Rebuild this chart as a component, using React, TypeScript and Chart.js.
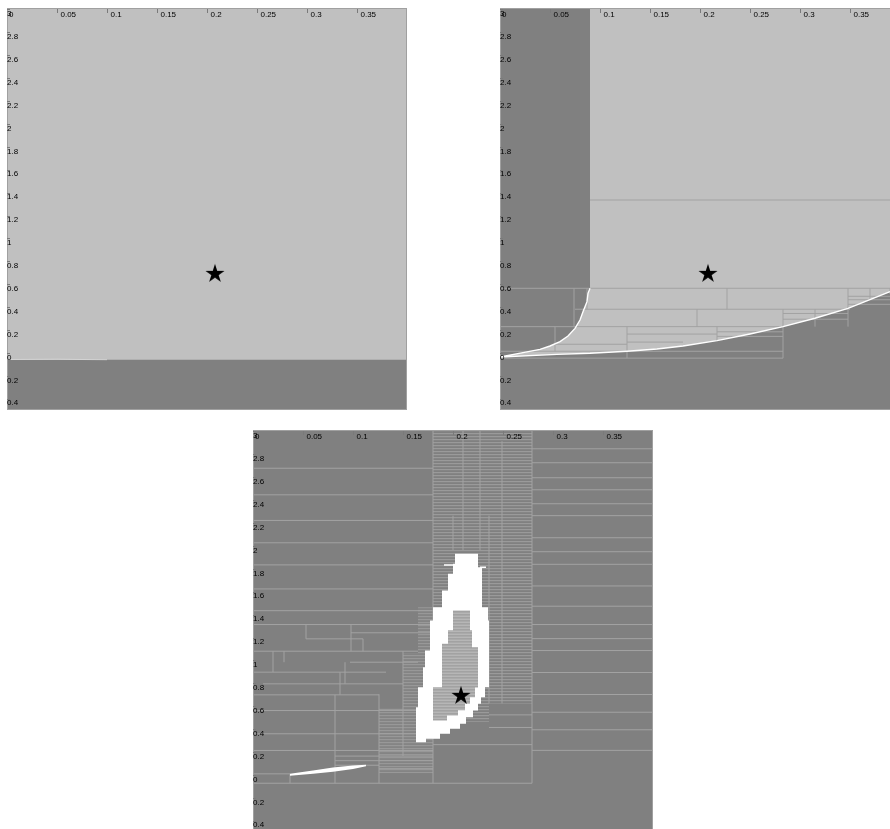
import React, { useEffect, useRef } from 'react';
import { Chart, registerables } from 'chart.js';

Chart.register(...registerables);

// ---------- axes ----------
const X_MIN = 0;
const X_MAX = 0.4;
const Y_MIN = -0.463;
const Y_MAX = 3.048;

const xTickValues = [0, 0.05, 0.1, 0.15, 0.2, 0.25, 0.3, 0.35];
const xTickLabels = ['0', '0.05', '0.1', '0.15', '0.2', '0.25', '0.3', '0.35'];
const yTickValues = [-0.4, -0.2, 0, 0.2, 0.4, 0.6, 0.8, 1, 1.2, 1.4, 1.6, 1.8, 2, 2.2, 2.4, 2.6, 2.8, 3];
const yTickLabels = ['-0.4', '-0.2', '0', '0.2', '0.4', '0.6', '0.8', '1', '1.2', '1.4', '1.6', '1.8', '2', '2.2', '2.4', '2.6', '2.8', '3'];

// ---------- shared ----------
const starPoint = [[0.208, 0.726]];

// ---------- panel 1 ----------
const p1Region = [[0, -0.025], [0.4, -0.025], [0.4, 3.1], [0, 3.1]];
const p1Edge = [[0, -0.022], [0.05, -0.02], [0.1, -0.024]];

// ---------- panel 2 ----------
const p2LeftCurve = [
  [0.09, 3.1], [0.09, 0.6], [0.088, 0.556], [0.087, 0.483], [0.083, 0.396], [0.08, 0.323],
  [0.075, 0.25], [0.068, 0.183], [0.06, 0.134], [0.05, 0.096], [0.04, 0.067], [0.023, 0.038], [0, 0],
];
const p2BottomCurve = [
  [0, 0], [0.057, 0.023], [0.09, 0.032], [0.127, 0.05], [0.157, 0.07], [0.183, 0.096],
  [0.217, 0.143], [0.25, 0.201], [0.283, 0.265], [0.315, 0.338], [0.348, 0.425], [0.39, 0.57], [0.4, 0.61],
];
const p2Mesh = [
  [0.09, 1.371, 0.4, 1.371],
  [0, 0.6, 0.4, 0.6],
  [0.075, 0.417, 0.35, 0.417],
  [0, 0.265, 0.283, 0.265],
  [0.055, 0.111, 0.127, 0.111],
  [0, 0.05, 0.283, 0.05],
  [0, -0.01, 0.283, -0.01],
  [0.127, 0.2, 0.217, 0.2],
  [0.127, 0.13, 0.183, 0.13],
  [0.217, 0.22, 0.283, 0.22],
  [0.217, 0.18, 0.283, 0.18],
  [0.283, 0.38, 0.348, 0.38],
  [0.283, 0.33, 0.348, 0.33],
  [0.348, 0.46, 0.4, 0.46],
  [0.348, 0.53, 0.4, 0.53],
  [0.348, 0.5, 0.4, 0.5],
  [0.227, 0.417, 0.227, 0.6],
  [0.197, 0.265, 0.197, 0.417],
  [0.283, -0.01, 0.283, 0.417],
  [0.127, -0.01, 0.127, 0.265],
  [0.348, 0.265, 0.348, 0.6],
  [0.315, 0.265, 0.315, 0.417],
  [0.217, 0.143, 0.217, 0.265],
  [0.074, 0.265, 0.074, 0.6],
  [0.055, 0.05, 0.055, 0.265],
  [0.087, 0.417, 0.087, 0.6],
  [0.37, 0.5, 0.37, 0.6],
  [0.39, 0.55, 0.39, 0.6],
];

// ---------- panel 3 ----------
const p3Ring = [
  [0.205, 1.967], [0.225, 1.967], [0.225, 1.85], [0.229, 1.85], [0.229, 1.5], [0.235, 1.5],
  [0.235, 1.384], [0.236, 1.384], [0.236, 0.802], [0.232, 0.802], [0.232, 0.714], [0.228, 0.714],
  [0.228, 0.657], [0.225, 0.657], [0.225, 0.598], [0.22, 0.598], [0.22, 0.54], [0.213, 0.54],
  [0.213, 0.482], [0.207, 0.482], [0.207, 0.438], [0.197, 0.438], [0.197, 0.395], [0.187, 0.395],
  [0.187, 0.351], [0.173, 0.351], [0.173, 0.321], [0.163, 0.321], [0.163, 0.627], [0.165, 0.627],
  [0.165, 0.802], [0.17, 0.802], [0.17, 0.976], [0.172, 0.976], [0.172, 1.122], [0.177, 1.122],
  [0.177, 1.384], [0.18, 1.384], [0.18, 1.5], [0.189, 1.5], [0.189, 1.646], [0.195, 1.646],
  [0.195, 1.792], [0.2, 1.792], [0.2, 1.879], [0.202, 1.879], [0.202, 1.967],
];
const p3Inner = [
  [0.2, 1.472], [0.217, 1.472], [0.217, 1.3], [0.219, 1.3], [0.219, 1.151], [0.225, 1.151],
  [0.225, 0.8], [0.222, 0.8], [0.222, 0.714], [0.217, 0.714], [0.217, 0.657], [0.212, 0.657],
  [0.212, 0.6], [0.205, 0.6], [0.205, 0.555], [0.194, 0.555], [0.194, 0.511], [0.18, 0.511],
  [0.18, 0.802], [0.189, 0.802], [0.189, 1.181], [0.195, 1.181], [0.195, 1.3], [0.2, 1.3],
];
const p3Streak = [
  [0.037, 0.045], [0.06, 0.075], [0.08, 0.1], [0.1, 0.118], [0.113, 0.124],
  [0.113, 0.112], [0.1, 0.088], [0.08, 0.064], [0.06, 0.045], [0.037, 0.028],
];
const p3WhiteDashes = [
  [0.191, 1.87, 0.2, 1.87],
  [0.227, 1.85, 0.233, 1.85],
];
const p3BandHatch = [[0.18, 3.1], [0.279, 3.1], [0.279, 0.66], [0.236, 0.66], [0.236, 0.5], [0.18, 0.5]];
const p3LeftHatch = [
  [0.126, 0.05], [0.18, 0.05], [0.18, 1.5], [0.165, 1.5], [0.165, 1.1], [0.15, 1.1], [0.15, 0.62], [0.126, 0.62],
];
const p3Mesh = [
  [0.279, 2.884, 0.4, 2.884], [0.279, 2.762, 0.4, 2.762], [0.279, 2.631, 0.4, 2.631],
  [0.279, 2.526, 0.4, 2.526], [0.279, 2.404, 0.4, 2.404], [0.279, 2.3, 0.4, 2.3],
  [0.279, 2.107, 0.4, 2.107], [0.279, 1.985, 0.4, 1.985], [0.279, 1.875, 0.4, 1.875],
  [0.279, 1.686, 0.4, 1.686], [0.279, 1.509, 0.4, 1.509], [0.279, 1.349, 0.4, 1.349],
  [0.279, 1.226, 0.4, 1.226], [0.279, 1.122, 0.4, 1.122], [0.279, 0.93, 0.4, 0.93],
  [0.279, 0.738, 0.4, 0.738], [0.279, 0.583, 0.4, 0.583], [0.279, 0.43, 0.4, 0.43],
  [0.279, 0.25, 0.4, 0.25],
  [0, 2.714, 0.18, 2.714], [0, 2.482, 0.18, 2.482], [0, 2.258, 0.18, 2.258], [0, 2.063, 0.18, 2.063],
  [0, 1.87, 0.18, 1.87], [0, 1.66, 0.18, 1.66], [0, 1.47, 0.18, 1.47], [0, 1.349, 0.18, 1.349],
  [0.098, 1.277, 0.18, 1.277], [0.053, 1.224, 0.11, 1.224], [0, 1.116, 0.165, 1.116],
  [0.097, 1.02, 0.165, 1.02], [0, 0.933, 0.133, 0.933], [0.01, 0.831, 0.15, 0.831],
  [0, 0.735, 0.126, 0.735], [0, 0.598, 0.163, 0.598], [0, 0.395, 0.163, 0.395],
  [0, 0.249, 0.18, 0.249], [0.082, 0.2, 0.18, 0.2], [0.082, 0.16, 0.18, 0.16],
  [0.082, 0.12, 0.126, 0.12], [0.126, 0.09, 0.18, 0.09], [0, 0.045, 0.037, 0.045],
  [0, -0.037, 0.279, -0.037], [0.18, 0.3, 0.279, 0.3], [0.236, 0.56, 0.279, 0.56],
  [0.236, 0.45, 0.279, 0.45],
  [0.053, 1.224, 0.053, 1.349], [0.098, 1.116, 0.098, 1.349], [0.11, 1.116, 0.11, 1.224],
  [0.02, 0.933, 0.02, 1.116], [0.031, 1.02, 0.031, 1.116], [0.092, 0.831, 0.092, 1.02],
  [0.087, 0.735, 0.087, 0.933], [0.082, -0.037, 0.082, 0.735], [0.126, -0.037, 0.126, 0.74],
  [0.15, 0.2, 0.15, 1.116], [0.18, -0.037, 0.18, 3.1], [0.279, -0.037, 0.279, 3.1],
  [0.249, 0.66, 0.249, 2.95], [0.236, 0.66, 0.236, 2.3], [0.037, -0.037, 0.037, 0.045],
  [0.21, 2.0, 0.21, 3.1], [0.227, 2.0, 0.227, 3.1], [0.2, 2.0, 0.2, 2.3],
];

// ---------- colours ----------
const LIGHT = '#c0c0c0';
const DARK = '#808080';
const MESH = '#a2a2a2';

// ---------- helpers ----------
const toXY = (pts: number[][]) => pts.map(([x, y]) => ({ x, y }));
const segsToXY = (segs: number[][]) =>
  segs.flatMap(([x1, y1, x2, y2]) => [{ x: x1, y: y1 }, { x: x2, y: y2 }, { x: x2, y: null }]);

const poly = (pts: number[][], color: any, order: number) => ({
  data: toXY(pts), showLine: true, fill: 'shape', backgroundColor: color,
  borderWidth: 0, pointRadius: 0, order,
});
const segLines = (segs: number[][], color: string, width: number, order: number) => ({
  data: segsToXY(segs), fill: false, borderColor: color, borderWidth: width, pointRadius: 0, order,
});
const polyline = (pts: number[][], color: string, width: number, order: number) => ({
  data: toXY(pts), fill: false, borderColor: color, borderWidth: width, pointRadius: 0, order,
});

function makeStar() {
  const c = document.createElement('canvas');
  c.width = 22; c.height = 22;
  const g = c.getContext('2d')!;
  g.fillStyle = '#000';
  g.beginPath();
  for (let k = 0; k < 10; k++) {
    const r = k % 2 === 0 ? 10 : 3.82;
    const a = -Math.PI / 2 + (k * Math.PI) / 5;
    const px = 11 + r * Math.cos(a);
    const py = 11 + r * Math.sin(a);
    if (k === 0) g.moveTo(px, py); else g.lineTo(px, py);
  }
  g.closePath();
  g.fill();
  return c;
}

function makePattern(ctx: CanvasRenderingContext2D, rows: string[]) {
  const c = document.createElement('canvas');
  c.width = 4; c.height = rows.length;
  const g = c.getContext('2d')!;
  rows.forEach((col, i) => { g.fillStyle = col; g.fillRect(0, i, 4, 1); });
  return ctx.createPattern(c, 'repeat');
}

const starDataset = () => ({
  data: toXY(starPoint), showLine: false, pointStyle: makeStar(), pointRadius: 10, order: 0,
});

const framePlugin = {
  id: 'frame',
  beforeDraw(chart: any, _a: any, opts: any) {
    const { ctx, chartArea: a } = chart;
    ctx.save();
    ctx.fillStyle = opts.bg;
    ctx.fillRect(a.left, a.top, a.right - a.left, a.bottom - a.top);
    ctx.restore();
  },
  afterDraw(chart: any) {
    const { ctx, chartArea: a, scales } = chart;
    ctx.save();
    ctx.strokeStyle = '#a0a0a0';
    ctx.lineWidth = 1;
    ctx.strokeRect(a.left + 0.5, a.top + 0.5, a.right - a.left - 1, a.bottom - a.top - 1);
    ctx.font = '8px "Liberation Sans", Arial, sans-serif';
    ctx.fillStyle = '#000';
    ctx.textAlign = 'left';
    ctx.textBaseline = 'middle';
    ctx.strokeStyle = '#7a7a7a';
    xTickValues.forEach((v, i) => {
      const px = Math.round(scales.x.getPixelForValue(v)) + 0.5;
      if (i > 0) {
        ctx.beginPath(); ctx.moveTo(px, a.top + 1); ctx.lineTo(px, a.top + 5); ctx.stroke();
      }
      ctx.fillText(xTickLabels[i], px + (i === 0 ? 1.5 : 3), a.top + 6.5);
    });
    yTickValues.forEach((v, i) => {
      const py = scales.y.getPixelForValue(v);
      const ty = Math.round(py - 4) + 0.5;
      ctx.beginPath(); ctx.moveTo(a.left, ty); ctx.lineTo(a.left + 3, ty); ctx.stroke();
      const label = yTickLabels[i];
      const shift = label.startsWith('-') ? ctx.measureText('-').width : 0;
      ctx.fillText(label, a.left - shift, py + 0.5);
    });
    ctx.restore();
  },
};

function buildPanel(id: number, ctx: CanvasRenderingContext2D) {
  if (id === 1) {
    return {
      bg: DARK,
      datasets: [
        starDataset(),
        polyline(p1Edge, 'rgba(255,255,255,0.45)', 1, 1),
        poly(p1Region, LIGHT, 5),
      ],
    };
  }
  if (id === 2) {
    const light = [...p2LeftCurve, ...p2BottomCurve.slice(1), [0.4, 3.1]];
    const edge = [...p2LeftCurve.slice(1), ...p2BottomCurve.slice(1)];
    return {
      bg: DARK,
      datasets: [
        starDataset(),
        polyline(edge, '#ffffff', 1.4, 1),
        segLines(p2Mesh, MESH, 1, 2),
        poly(light, LIGHT, 5),
      ],
    };
  }
  const band = makePattern(ctx, ['#9a9a9a', '#858585', '#808080']);
  const left = makePattern(ctx, ['#989898', '#878787', '#848484']);
  const inner = makePattern(ctx, ['#b6b6b6', '#a2a2a2', '#aaaaaa']);
  return {
    bg: DARK,
    datasets: [
      starDataset(),
      poly(p3Streak, '#ffffff', 1),
      segLines(p3WhiteDashes, '#ffffff', 1.5, 1),
      poly(p3Inner, inner, 2),
      poly(p3Ring, '#ffffff', 3),
      segLines(p3Mesh, MESH, 1, 4),
      poly(p3BandHatch, band, 5),
      poly(p3LeftHatch, left, 6),
    ],
  };
}

function Panel({ id, left, top }: { id: number; left: number; top: number }) {
  const ref = useRef<HTMLCanvasElement | null>(null);
  useEffect(() => {
    const canvas = ref.current!;
    const ctx = canvas.getContext('2d')!;
    const { bg, datasets } = buildPanel(id, ctx);
    const chart = new Chart(ctx, {
      type: 'line',
      data: { datasets: datasets as any },
      options: {
        animation: false,
        responsive: false,
        maintainAspectRatio: false,
        events: [],
        layout: { padding: 0, autoPadding: false },
        elements: { line: { tension: 0 } },
        scales: {
          x: { type: 'linear', min: X_MIN, max: X_MAX, display: false },
          y: { type: 'linear', min: Y_MIN, max: Y_MAX, display: false },
        },
        plugins: {
          legend: { display: false },
          tooltip: { enabled: false },
          frame: { bg },
        } as any,
      } as any,
      plugins: [framePlugin as any],
    });
    return () => chart.destroy();
  }, [id]);
  return (
    <canvas
      ref={ref}
      width={400}
      height={402}
      style={{ position: 'absolute', left, top, width: 400, height: 402, display: 'block' }}
    />
  );
}

export default function App() {
  return (
    <div
      style={{
        position: 'fixed', left: 0, top: 0, width: 890, height: 829,
        overflow: 'hidden', background: '#ffffff',
      }}
    >
      <Panel id={1} left={7} top={8} />
      <Panel id={2} left={500} top={8} />
      <Panel id={3} left={253} top={430} />
    </div>
  );
}
